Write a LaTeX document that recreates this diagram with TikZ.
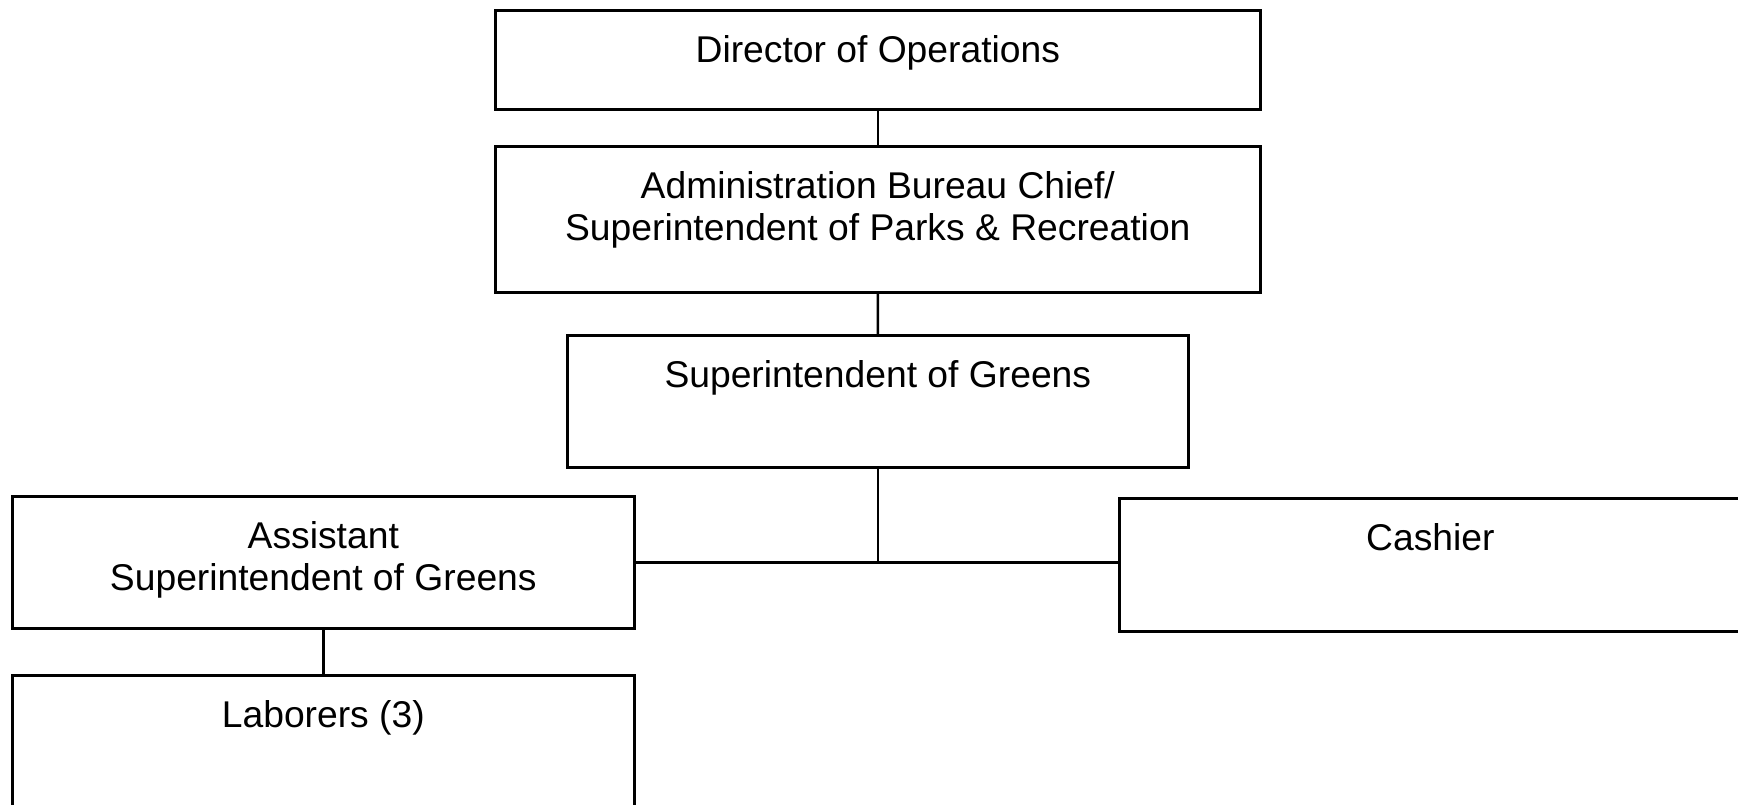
\documentclass[tikz,border=0pt]{standalone}
\usepackage{fontspec}
\setmainfont{Liberation Sans}
\usetikzlibrary{positioning}
\tikzset{
	post/.style={draw,line width=0.75pt,rectangle,anchor=north west,inner sep=0pt},
	title/.style={anchor=north,align=center,inner sep=0pt,yshift=-0.26cm,font=\fontsize{10.6}{12}\selectfont},
	link/.style={line width=0.75pt},
}
\begin{document}
\begin{tikzpicture}
		\useasboundingbox (0,0) rectangle (17.38,-8.04);
		\node[post,minimum width=7.65cm,minimum height=0.99cm,label={[title]north:{Director of Operations}}] (director) at (4.94,-0.09) {};
		\node[post,minimum width=7.65cm,minimum height=1.46cm,label={[title]north:{Administration Bureau Chief/\\Superintendent of Parks \& Recreation}}] (admin) at (4.94,-1.45) {};
		\node[post,minimum width=6.21cm,minimum height=1.32cm,label={[title]north:{Superintendent of Greens}}] (supt) at (5.66,-3.34) {};
		\node[post,minimum width=6.22cm,minimum height=1.32cm,label={[title]north:{Assistant\\Superintendent of Greens}}] (asst) at (0.11,-4.95) {};
		\node[post,minimum width=6.22cm,minimum height=1.33cm,label={[title]north:{Cashier}}] (cashier) at (11.18,-4.97) {};
		\node[post,minimum width=6.22cm,minimum height=1.32cm,label={[title]north:{Laborers (3)}}] (laborers) at (0.11,-6.74) {};
		\draw[link] (director) -- (admin);
		\draw[link] (admin) -- (supt);
		\draw[link] (supt.south) -- (supt.south |- asst.east);
		\draw[link] (asst.east) -- (asst.east -| cashier.west);
		\draw[link] (asst) -- (laborers);
	\end{tikzpicture}
\end{document}
